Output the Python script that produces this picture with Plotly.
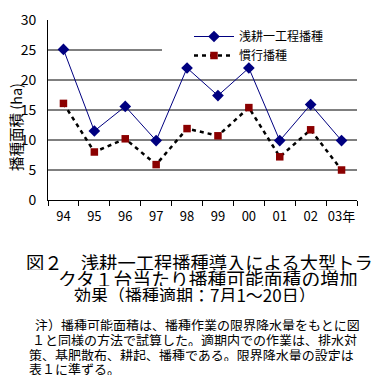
import plotly.graph_objects as go

years = ["94", "95", "96", "97", "98", "99", "00", "01", "02", "03年"]
shallow = [25.1, 11.5, 15.6, 9.9, 22.0, 17.4, 22.0, 9.9, 15.9, 9.9]
conventional = [16.1, 8.0, 10.2, 5.9, 11.9, 10.7, 15.4, 7.2, 11.7, 5.0]
name_shallow = "浅耕一工程播種"
name_conv = "慣行播種"
y_ticks = [0, 5, 10, 15, 20, 25, 30]
y_title = "播種面積 (ha)"
caption_lines = [
    "図２　浅耕一工程播種導入による大型トラ",
    "クタ１台当たり播種可能面積の増加",
    "効果（播種適期：7月1～20日）",
]
note_lines = [
    "注）播種可能面積は、播種作業の限界降水量をもとに図",
    "１と同様の方法で試算した。適期内での作業は、排水対",
    "策、基肥散布、耕起、播種である。限界降水量の設定は",
    "表１に準ずる。",
]

W, H = 380, 377
L, R, T, B = 48, 23, 20, 177
PW, PH = W - L - R, H - T - B
FONT = "Noto Sans CJK JP"


def px(x):
    return (x - L) / PW


def py(y):
    return (H - B - y) / PH


fig = go.Figure()
fig.add_trace(go.Scatter(
    x=years, y=shallow, name=name_shallow, mode="lines+markers",
    line=dict(color="#000080", width=1),
    marker=dict(symbol="diamond", size=9, color="#000080"),
))
fig.add_trace(go.Scatter(
    x=years, y=conventional, name=name_conv, mode="lines+markers",
    line=dict(color="#000000", width=2.5, dash="4px,4px"),
    marker=dict(symbol="square", size=7.5, color="#8B0000"),
))

# gridlines (the 25 line is partly hidden by the legend area)
for v in y_ticks[1:-1]:
    x1 = px(162) if v == 25 else 1
    fig.add_shape(type="line", xref="paper", yref="y", x0=0, x1=x1, y0=v, y1=v,
                  line=dict(color="black", width=1), layer="below")

ann = []
ann.append(dict(text=y_title, x=px(15), y=py(127), xref="paper", yref="paper",
                textangle=-90, showarrow=False, font=dict(size=14.5, color="black", family=FONT),
                xanchor="center", yanchor="middle"))
cap_pos = [(24, 262, 18.3), (56, 278, 18.8), (72, 294, 17)]
for t, (x, y, s) in zip(caption_lines, cap_pos):
    ann.append(dict(text=t, x=px(x), y=py(y), xref="paper", yref="paper", showarrow=False,
                    xanchor="left", yanchor="middle", height=16,
                    font=dict(size=s, color="black", family=FONT)))
note_pos = [(33, 324), (30, 339), (27, 354), (27, 368)]
for t, (x, y) in zip(note_lines, note_pos):
    ann.append(dict(text=t, x=px(x), y=py(y), xref="paper", yref="paper", showarrow=False,
                    xanchor="left", yanchor="middle", height=14,
                    font=dict(size=13, color="black", family=FONT)))

fig.update_layout(
    width=W, height=H,
    margin=dict(l=L, r=R, t=T, b=B, autoexpand=False),
    paper_bgcolor="white", plot_bgcolor="white",
    font=dict(family=FONT, color="black", size=13),
    showlegend=True,
    legend=dict(x=px(189), y=py(22), xanchor="left", yanchor="top",
                bgcolor="rgba(0,0,0,0)", font=dict(size=12, family=FONT),
                tracegroupgap=0, itemwidth=40),
    annotations=ann,
    xaxis=dict(type="category", showline=True, linecolor="black", linewidth=1,
               ticks="outside", tickson="boundaries", ticklen=5, tickcolor="black",
               showgrid=False, zeroline=False, tickfont=dict(size=13),
               ticklabelstandoff=4,
               tickangle=0, automargin=False, range=[-0.5, 9.5]),
    yaxis=dict(range=[0, 30], tickvals=y_ticks, showline=True, linecolor="black",
               linewidth=1, showgrid=False, zeroline=False, ticks="",
               automargin=False, ticklabelstandoff=8, tickfont=dict(size=14)),
)

fig.write_html("out.html", config={"displayModeBar": False},
               post_script="document.body.style.margin='0px';document.body.style.padding='0px';")
